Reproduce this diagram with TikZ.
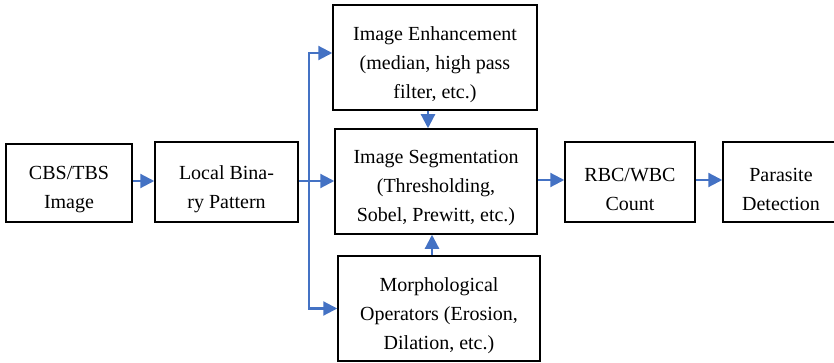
\documentclass[tikz,border=0pt]{standalone}
\usepackage{fontspec}
\setmainfont{Liberation Serif}
\usetikzlibrary{arrows.meta,calc}
\definecolor{flowblue}{RGB}{68,114,196}
\begin{document}
\begin{tikzpicture}[x=1pt,y=-1pt,
  box/.style={draw=black,line width=1.5pt,rectangle,inner sep=0pt},
  txt/.style={align=center,inner sep=0pt,font=\fontsize{20}{29}\selectfont},
  arr/.style={draw=flowblue,line width=2.2pt,-{Triangle[length=14pt,width=14pt]}}]
\clip (0,0) rectangle (834,363);
\node[box,minimum width=126pt,minimum height=78pt] (cbs) at (69,183) {};
\node[box,minimum width=143pt,minimum height=80pt] (lbp) at (226.5,182) {};
\node[box,minimum width=204pt,minimum height=105pt] (enh) at (435,57.5) {};
\node[box,minimum width=202pt,minimum height=105pt] (seg) at (436,181.5) {};
\node[box,minimum width=202pt,minimum height=105pt] (morph) at (439,308.5) {};
\node[box,minimum width=130pt,minimum height=80pt] (rbc) at (630,182) {};
\node[box,minimum width=116pt,minimum height=80pt] (par) at (781,182) {};
\node[txt] (tcbs) at ($(cbs.center)+(0,7)$) {CBS/TBS\\Image};
\node[txt] (tlbp) at ($(lbp.center)+(0,7)$) {Local Bina-\\ry Pattern};
\node[txt] (tenh) at ($(enh.center)+(0,7)$) {Image Enhancement\\(median, high pass\\filter, etc.)};
\node[txt] (tseg) at ($(seg.center)+(0,7)$) {Image Segmentation\\(Thresholding,\\Sobel, Prewitt, etc.)};
\node[txt] (tmorph) at ($(morph.center)+(0,7)$) {Morphological\\Operators (Erosion,\\Dilation, etc.)};
\node[txt] (trbc) at ($(rbc.center)+(0,7)$) {RBC/WBC\\Count};
\node[txt] (tpar) at ($(par.center)+(0,7)$) {Parasite\\Detection};
\coordinate (j) at (309,181);
\coordinate (es) at ($(enh.south)+(-7,0)$);
\coordinate (mn) at ($(morph.north)+(-7,0)$);
\coordinate (ew) at ($(enh.west)+(0,-4.5)$);
\draw[arr] (cbs.east |- j) -- (lbp.west |- j);
\draw[arr] (lbp.east |- j) -- (seg.west |- j);
\draw[arr] (j) |- (ew);
\draw[arr] (j) |- (morph.west);
\draw[arr] (es) -- (es |- seg.north);
\draw[arr] (mn) -- (mn |- seg.south);
\draw[arr] (seg.east |- 0,180) -- (rbc.west |- 0,180);
\draw[arr] (rbc.east |- 0,180) -- (par.west |- 0,180);
\end{tikzpicture}
\end{document}
